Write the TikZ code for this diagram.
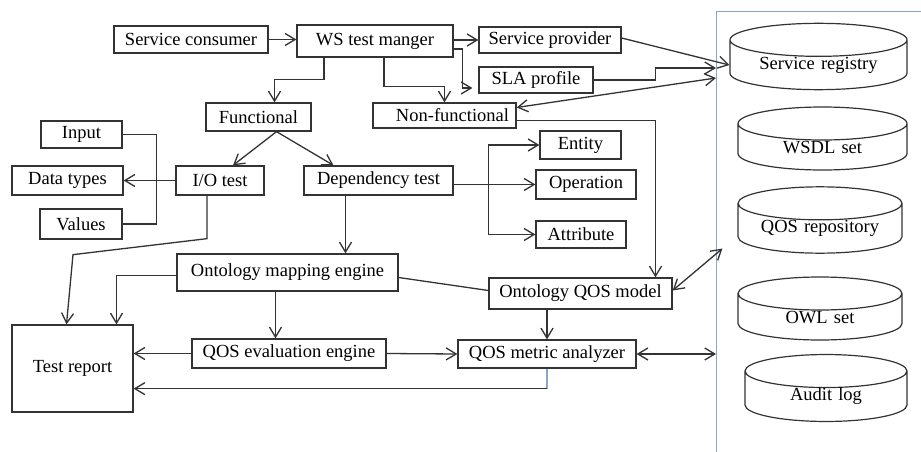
\documentclass[tikz,border=0pt]{standalone}
\usepackage{fontspec}
\setmainfont{Liberation Serif}
\usetikzlibrary{arrows.meta,shapes.geometric}
\definecolor{lineclr}{HTML}{333333}
\definecolor{frameclr}{HTML}{8EA4C6}

\begin{document}
\begin{tikzpicture}[x=1pt,y=-1pt,
  font=\fontsize{18.5}{21}\selectfont,
  blk/.style 2 args={draw=lineclr,line width=1.3pt,inner sep=0pt,minimum width=#1,minimum height=#2},
  store/.style 2 args={cylinder,shape border rotate=90,draw=lineclr,line width=1.2pt,aspect=0.22,inner sep=0pt,
    text width=150pt,align=center,anchor=shape center,minimum width=#1,minimum height=#2},
  arr/.style={draw=lineclr,line width=1.3pt,-{Straight Barb[length=10pt,width=12pt]}},
  dbl/.style={draw=lineclr,line width=1.3pt,{Straight Barb[length=10pt,width=12pt]}-{Straight Barb[length=10pt,width=12pt]}},
  conn/.style={draw=lineclr,line width=1.3pt}]
\useasboundingbox (0,0) rectangle (921,452);
\draw[frameclr,line width=1pt] (921,12) -- (716,12) -- (716,452);
\coordinate (regin) at (716,68);
\coordinate (nfin) at (716,78);
\coordinate (metin) at (716,354);

\node[blk={154}{27}] (consumer) at (191,39.5) {Service consumer};
\node[blk={156}{32}] (wsm) at (375,41) {WS test manger};
\node[blk={142}{26}] (provider) at (550,40) {Service provider};
\node[blk={114}{26}] (sla) at (536,80) {SLA profile};
\node[blk={143}{25}] (nonfunc) at (444.5,115.5) {\hspace{16pt}Non-functional};
\node[blk={105}{28}] (func) at (258.5,117) {Functional};
\node[blk={81}{27}] (input) at (81.5,134.5) {Input};
\node[blk={111}{29}] (datatypes) at (67.5,180.5) {Data types};
\node[blk={82}{30}] (values) at (81,224) {Values};
\node[blk={88}{29}] (io) at (220,180.5) {I/O test};
\node[blk={149}{29}] (dep) at (378.5,180.5) {Dependency test};
\node[blk={81}{28}] (entity) at (580.5,145) {Entity};
\node[blk={100}{29}] (operation) at (586,184.5) {Operation};
\node[blk={90}{27}] (attribute) at (581,234.5) {Attribute};
\node[blk={221}{37}] (mapping) at (287.5,272.5) {Ontology mapping engine};
\node[blk={183}{31}] (model) at (580.5,293.5) {Ontology QOS model};
\node[blk={194}{29}] (eval) at (289,353.5) {QOS evaluation engine};
\node[blk={178}{28}] (metric) at (547,354) {QOS metric analyzer};
\node[blk={121}{87}] (report) at (72.5,368.5) {Test report};

\node[store={177}{63}] (registry) at (818.5,56.5) {Service registry};
\node[store={169}{63}] (wsdl) at (822.5,138.5) {WSDL set};
\node[store={164}{64}] (qosrep) at (820,220) {QOS repository};
\node[store={164}{63}] (owl) at (820,308.5) {OWL set};
\node[store={162}{62}] (audit) at (826,388) {Audit log};

\draw[arr] (consumer.east) -- (consumer.east -| wsm.west);
\draw[arr] (wsm.east |- provider) -- (provider.west);
\draw[arr] ([yshift=-8pt]wsm.east) -- ++(9,0) |- ([xshift=-6pt,yshift=-8pt]sla.west);
\draw[arr] ([xshift=-51pt]wsm.south) -- ++(0,22) -| ([xshift=16pt]func.north);
\draw[arr] ([xshift=9pt]wsm.south) -- ++(0,29) -| (nonfunc.north);
\draw[arr] ([yshift=2pt]provider.east) -- (registry.west);
\draw[arr] (sla.east) -- ++(62,0) |- (regin);
\draw[dbl] ([yshift=8pt]nonfunc.east) -- (nfin);
\draw[arr] ([yshift=-5pt]nonfunc.east) -| ([xshift=75pt]model.north);
\draw[arr] ([xshift=18pt]func.south) -- ([xshift=13pt]io.north);
\draw[arr] ([xshift=18pt]func.south) -- ([xshift=-45pt]dep.north);
\draw[arr] (io.west) -- (datatypes.east);
\draw[conn] (input.east) -- ++(34,0) |- (values.east);
\draw[arr] (dep.east |- operation) -- (operation.west);
\draw[arr] ([xshift=-47pt]attribute.west) coordinate (brk) -- (attribute.west);
\draw[arr] (brk) |- (entity.west);
\draw[arr] ([xshift=-13pt]io.south) -- ++(0,43) -- ++(-134,16) -- ([xshift=-6pt]report.north);
\draw[arr] ([xshift=-33pt]dep.south) -- ([xshift=-33pt]dep.south |- mapping.north);
\draw[arr] ([yshift=-3pt]mapping.west) -| ([xshift=44pt]report.north);
\draw[conn] ([yshift=-5pt]mapping.east) -- ([yshift=3pt]model.west);
\draw[arr] ([xshift=-12pt]mapping.south) -- ([xshift=-12pt]mapping.south |- eval.north);
\draw[arr] (eval.west) -- (eval.west -| report.east);
\draw[arr] (eval.east) -- (metric.west);
\draw[arr] (model.south -| metric.north) -- (metric.north);
\draw[frameclr,line width=1.2pt] (metric.south) -- ++(0,20) coordinate (metcorner);
\draw[arr] (metcorner) -- (metcorner -| report.east);
\draw[dbl] (metric.east) -- (metin);
\draw[dbl] ([yshift=3pt]model.east) -- ([xshift=-15pt,yshift=-20pt]qosrep.west);
\end{tikzpicture}
\end{document}
